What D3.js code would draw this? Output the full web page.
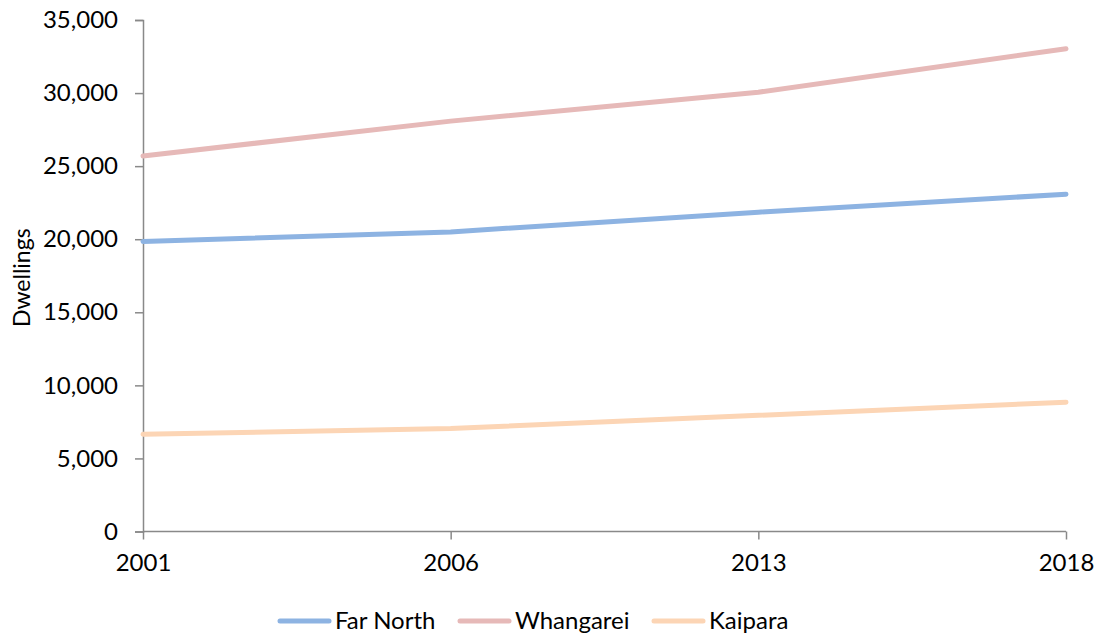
<!DOCTYPE html>
<html>
<head>
<meta charset="utf-8">
<script src="https://cdn.jsdelivr.net/npm/d3@7"></script>
<style>
  html, body { margin: 0; padding: 0; background: #fff; }
  svg { display: block; font-family: Lato, "Open Sans", sans-serif; }
</style>
</head>
<body>
<svg id="chart" width="1101" height="637"></svg>
<script>
// Dwelling counts by census year
const years = ["2001", "2006", "2013", "2018"];
const farNorth = [19850, 20500, 21850, 23080];
const whangarei = [25700, 28080, 30060, 33030];
const kaipara = [6650, 7050, 7950, 8850];
const seriesNames = ["Far North", "Whangarei", "Kaipara"];
const seriesColors = ["#8db3e2", "#e6b9b8", "#fcd5b5"];
const yTicks = [0, 5000, 10000, 15000, 20000, 25000, 30000, 35000];

const series = [farNorth, whangarei, kaipara].map((values, i) => ({
  name: seriesNames[i],
  color: seriesColors[i],
  values
}));

const svg = d3.select("#chart");
const plotLeft = 143, plotRight = 1066, plotTop = 20, plotBottom = 531.5;

const x = d3.scalePoint().domain(years).range([plotLeft, plotRight]);
const y = d3.scaleLinear().domain([0, 35000]).range([plotBottom, plotTop]);

const axisColor = "#898989";
const fmt = d3.format(",");

// y axis
const yAxis = svg.append("g")
  .attr("transform", `translate(${plotLeft},0)`)
  .call(d3.axisLeft(y).tickValues(yTicks).tickFormat(fmt).tickSize(8).tickPadding(17));
yAxis.select(".domain").attr("stroke", axisColor).attr("stroke-width", 1.5);
yAxis.selectAll(".tick line").attr("stroke", axisColor).attr("stroke-width", 1.5);
yAxis.selectAll(".tick text").attr("font-size", 24).attr("fill", "#000")
  .attr("font-family", "Lato, sans-serif");

// x axis
const xAxis = svg.append("g")
  .attr("transform", `translate(0,${plotBottom})`)
  .call(d3.axisBottom(x).tickSizeInner(8).tickSizeOuter(0).tickPadding(14));
xAxis.select(".domain").attr("stroke", axisColor).attr("stroke-width", 1.5)
  .attr("d", `M${plotLeft},0H${plotRight}`);
xAxis.selectAll(".tick line").attr("stroke", axisColor).attr("stroke-width", 1.5);
xAxis.selectAll(".tick text").attr("font-size", 24).attr("fill", "#000")
  .attr("font-family", "Lato, sans-serif");

// y axis title
svg.append("text")
  .attr("transform", `translate(30,${(plotTop + plotBottom) / 2 + 2}) rotate(-90)`)
  .attr("text-anchor", "middle")
  .attr("font-size", 23)
  .attr("fill", "#000")
  .text("Dwellings");

// series lines
const line = d3.line()
  .x((d, i) => x(years[i]))
  .y(d => y(d));

svg.append("g").selectAll("path")
  .data(series)
  .join("path")
  .attr("d", d => line(d.values))
  .attr("fill", "none")
  .attr("stroke", d => d.color)
  .attr("stroke-width", 5)
  .attr("stroke-linecap", "round")
  .attr("stroke-linejoin", "round");

// legend
const legendX = [280, 460, 654];
const legendY = 621;
const legend = svg.append("g").selectAll("g")
  .data(series)
  .join("g")
  .attr("transform", (d, i) => `translate(${legendX[i]},${legendY})`);
legend.append("line")
  .attr("x1", 0).attr("x2", 49)
  .attr("stroke", d => d.color)
  .attr("stroke-width", 5)
  .attr("stroke-linecap", "round");
legend.append("text")
  .attr("x", 55)
  .attr("dy", "0.35em")
  .attr("font-size", 24)
  .attr("fill", "#000")
  .text(d => d.name);
</script>
</body>
</html>
